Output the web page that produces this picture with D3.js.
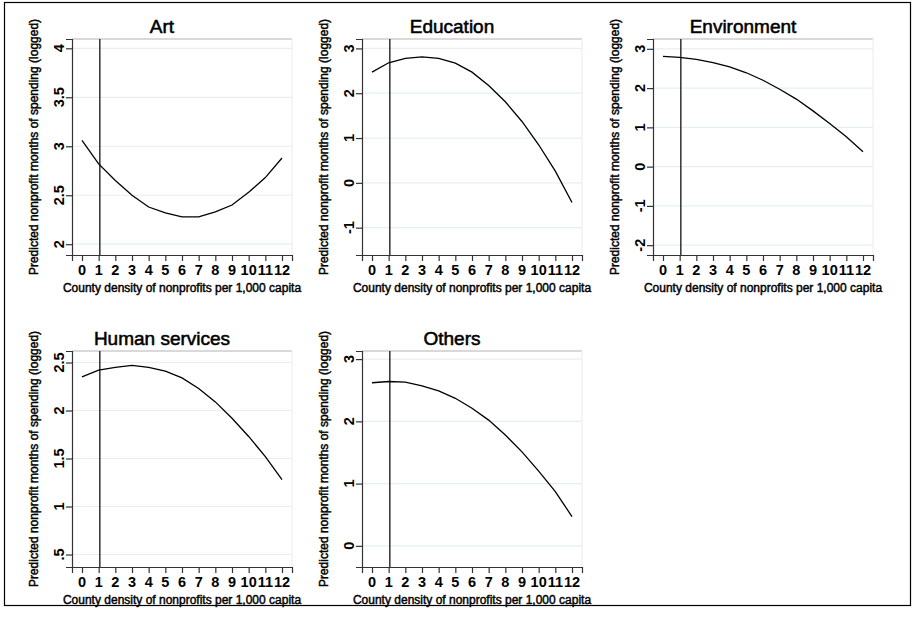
<!DOCTYPE html>
<html>
<head>
<meta charset="utf-8">
<script src="https://cdn.jsdelivr.net/npm/d3@7"></script>
<style>
  html, body { margin: 0; padding: 0; background: #fff; }
  svg text { font-family: "Liberation Sans", Arial, Helvetica, sans-serif; fill: #000; }
</style>
</head>
<body>
<div id="chart"></div>
<script>
// valeurs
const categories = ["Art", "Education", "Environment", "Human services", "Others"];
const xValues = [0, 1, 2, 3, 4, 5, 6, 7, 8, 9, 10, 11, 12];
const meanDensity = 1.07;

const artValues = [3.06, 2.82, 2.65, 2.50, 2.38, 2.32, 2.28, 2.28, 2.33, 2.40, 2.53, 2.68, 2.88];
const educationValues = [2.47, 2.68, 2.78, 2.81, 2.78, 2.67, 2.47, 2.17, 1.81, 1.37, 0.85, 0.26, -0.44];
const environmentValues = [2.81, 2.78, 2.73, 2.65, 2.54, 2.39, 2.20, 1.97, 1.72, 1.42, 1.10, 0.76, 0.38];
const humanValues = [2.35, 2.42, 2.45, 2.47, 2.45, 2.41, 2.34, 2.23, 2.09, 1.92, 1.73, 1.52, 1.28];
const othersValues = [2.62, 2.64, 2.63, 2.57, 2.49, 2.37, 2.21, 2.02, 1.78, 1.51, 1.20, 0.87, 0.47];

const artTicks = [2, 2.5, 3, 3.5, 4];
const educationTicks = [-1, 0, 1, 2, 3];
const environmentTicks = [-2, -1, 0, 1, 2, 3];
const humanTicks = [0.5, 1, 1.5, 2, 2.5];
const othersTicks = [0, 1, 2, 3];

const artLabels = ["2", "2.5", "3", "3.5", "4"];
const educationLabels = ["-1", "0", "1", "2", "3"];
const environmentLabels = ["-2", "-1", "0", "1", "2", "3"];
const humanLabels = [".5", "1", "1.5", "2", "2.5"];
const othersLabels = ["0", "1", "2", "3"];

const xTitle = "County density of nonprofits per 1,000 capita";
const yTitle = "Predicted nonprofit months of spending (logged)";

function main() {
  const width = 914, height = 620;

  const svg = d3.select("#chart").append("svg")
    .attr("width", width)
    .attr("height", height)
    .attr("viewBox", `0 0 ${width} ${height}`);

  // cadre extérieur
  svg.append("rect")
    .attr("x", 4.5).attr("y", 2.5)
    .attr("width", 906).attr("height", 603)
    .attr("fill", "none").attr("stroke", "#000").attr("stroke-width", 1.2);

  const panels = [
    { title: categories[0], values: artValues, ticks: artTicks, labels: artLabels, domain: [1.89, 4.095], left: 72, top: 39 },
    { title: categories[1], values: educationValues, ticks: educationTicks, labels: educationLabels, domain: [-1.61, 3.21], left: 362, top: 39 },
    { title: categories[2], values: environmentValues, ticks: environmentTicks, labels: environmentLabels, domain: [-2.25, 3.25], left: 653, top: 39 },
    { title: categories[3], values: humanValues, ticks: humanTicks, labels: humanLabels, domain: [0.37, 2.62], left: 72, top: 351 },
    { title: categories[4], values: othersValues, ticks: othersTicks, labels: othersLabels, domain: [-0.34, 3.13], left: 362, top: 351 }
  ];

  const pw = 220, ph = 216;

  panels.forEach(p => {
    const g = svg.append("g").attr("transform", `translate(${p.left},${p.top})`);

    const x = d3.scaleLinear().domain([-0.6, 12.6]).range([0, pw]);
    const y = d3.scaleLinear().domain(p.domain).range([ph, 0]);

    // grille
    g.selectAll(".grid").data(p.ticks).enter().append("line")
      .attr("x1", 0).attr("x2", pw)
      .attr("y1", d => y(d)).attr("y2", d => y(d))
      .attr("stroke", "#e6eff0").attr("stroke-width", 1.2);

    // bord de la zone
    g.append("line").attr("x1", 0).attr("x2", pw).attr("y1", 0).attr("y2", 0)
      .attr("stroke", "#cccccc").attr("stroke-width", 1.5);
    g.append("line").attr("x1", pw).attr("x2", pw).attr("y1", 0).attr("y2", ph)
      .attr("stroke", "#eeeeee").attr("stroke-width", 1.2);

    // axe Y
    const yAxis = d3.axisLeft(y).tickValues(p.ticks).tickSize(6).tickFormat("");
    const ya = g.append("g").call(yAxis);
    ya.select(".domain").attr("stroke", "#333").attr("stroke-width", 1.2);
    ya.selectAll(".tick line").attr("stroke", "#333").attr("stroke-width", 1.2);

    g.selectAll(".ylab").data(p.ticks).enter().append("text")
      .attr("transform", d => `translate(-8,${y(d)}) rotate(-90)`)
      .attr("text-anchor", "middle")
      .attr("font-size", 14.5)
      .attr("font-weight", "bold")
      .text((d, i) => p.labels[i]);

    // axe X
    const xAxis = d3.axisBottom(x).tickValues(xValues).tickSize(6).tickFormat("");
    const xa = g.append("g").attr("transform", `translate(0,${ph})`).call(xAxis);
    xa.select(".domain").attr("stroke", "#333").attr("stroke-width", 1.2);
    xa.selectAll(".tick line").attr("stroke", "#333").attr("stroke-width", 1.2);

    g.selectAll(".xlab").data(xValues).enter().append("text")
      .attr("x", d => x(d)).attr("y", ph + 20)
      .attr("text-anchor", "middle")
      .attr("font-size", 14.5)
      .attr("font-weight", "bold")
      .text(d => d);

    // ligne verticale (densité moyenne)
    g.append("line")
      .attr("x1", x(meanDensity)).attr("x2", x(meanDensity))
      .attr("y1", 0).attr("y2", ph)
      .attr("stroke", "#222").attr("stroke-width", 1.4);

    // courbe
    const line = d3.line().x((d, i) => x(xValues[i])).y(d => y(d));
    g.append("path").datum(p.values)
      .attr("d", line)
      .attr("fill", "none").attr("stroke", "#000").attr("stroke-width", 1.3);

    // titres
    g.append("text")
      .attr("x", pw / 2 - 20).attr("y", -6)
      .attr("text-anchor", "middle")
      .attr("font-size", 19)
      .attr("stroke", "#000").attr("stroke-width", 0.55)
      .text(p.title);

    g.append("text")
      .attr("x", pw / 2).attr("y", ph + 37)
      .attr("text-anchor", "middle")
      .attr("font-size", 12)
      .attr("stroke", "#000").attr("stroke-width", 0.45)
      .text(xTitle);

    g.append("text")
      .attr("transform", `translate(-34,${ph / 2}) rotate(-90)`)
      .attr("text-anchor", "middle")
      .attr("font-size", 12)
      .attr("stroke", "#000").attr("stroke-width", 0.45)
      .text(yTitle);
  });
}

main();
</script>
</body>
</html>
